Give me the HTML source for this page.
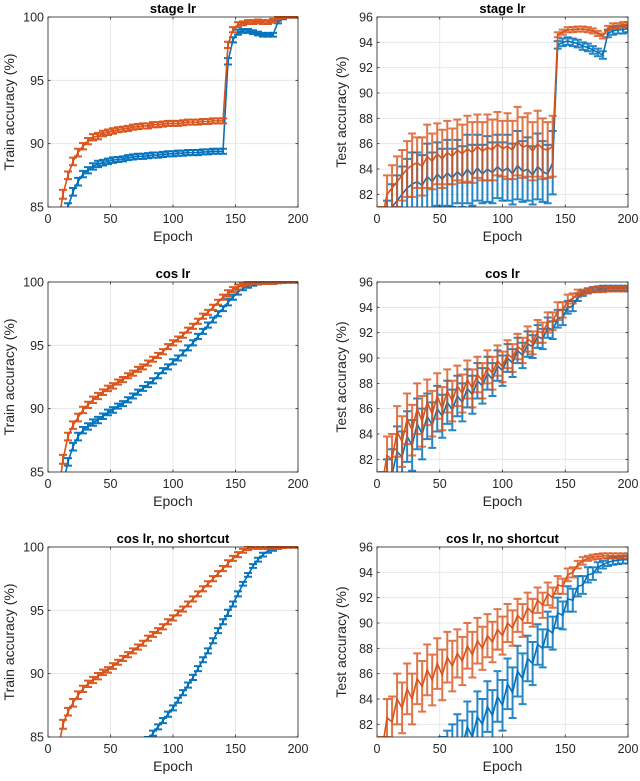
<!DOCTYPE html>
<html><head><meta charset="utf-8">
<style>
html,body{margin:0;padding:0;background:#fff;overflow:hidden;width:640px;height:781px;}
svg{display:block;font-family:"Liberation Sans",Arial,sans-serif;}
</style></head>
<body>
<svg id="fig" width="640" height="781" viewBox="0 0 640 781" xmlns="http://www.w3.org/2000/svg"></svg>
<script>
const epochs = [4,8,12,16,20,24,28,32,36,40,44,48,52,56,60,64,68,72,76,80,84,88,92,96,100,104,108,112,116,120,124,128,132,136,140,144,148,152,156,160,164,168,172,176,180,184,188,192,196,200];
const xTicks = [0,50,100,150,200];
const trainTicks = [85,90,95,100];
const testTicks = [82,84,86,88,90,92,94,96];

const stageTrainOrange = [80,83.5,86,87.5,88.6,89.3,89.8,90.2,90.5,90.6,90.8,90.9,91.0,91.1,91.15,91.2,91.3,91.35,91.4,91.4,91.5,91.5,91.55,91.6,91.6,91.6,91.65,91.7,91.7,91.7,91.75,91.75,91.8,91.8,91.8,97.8,99.0,99.4,99.5,99.6,99.6,99.65,99.6,99.6,99.7,99.9,100,100,100,100];
const stageTrainBlue = [78,81,83.5,85,86.2,87,87.6,87.9,88.2,88.4,88.5,88.6,88.7,88.75,88.8,88.9,88.95,89,89,89.05,89.1,89.1,89.15,89.2,89.2,89.25,89.25,89.3,89.3,89.3,89.35,89.35,89.4,89.4,89.4,96.5,98.2,98.8,98.9,98.9,98.8,98.7,98.6,98.6,98.6,99.6,99.9,100,100,100];
const trainErr = [0.35,0.35,0.35,0.3,0.3,0.3,0.25,0.25,0.25,0.25,0.22,0.22,0.22,0.2,0.2,0.2,0.2,0.2,0.2,0.2,0.2,0.2,0.2,0.2,0.2,0.2,0.2,0.2,0.2,0.2,0.2,0.2,0.2,0.2,0.2,0.25,0.2,0.2,0.15,0.15,0.15,0.15,0.15,0.15,0.15,0.1,0.08,0.05,0.05,0.05];

const stageTestOrange = [80,82,82.5,83,83.5,84,84.3,84.5,84.2,85,84.6,85.2,84.8,85.3,85,85.5,85.2,85.6,85.3,85.8,85.4,85.7,85.5,86,85.6,85.8,85.5,86.2,85.7,85.9,85.4,86,85.6,85.5,85.8,94.6,94.8,95,95,95.05,95.05,95,94.9,94.7,94.5,95.1,95.3,95.3,95.4,95.4];
const stageTestOrangeErr = [1,1.5,1.8,2,2,2.2,2.5,2,2.3,2.5,2.2,2.4,2.3,2.5,2.2,2.4,2.3,2.6,2.4,2.5,2.3,2.6,2.4,2.5,2.2,2.6,2.3,2.7,2.4,2.5,2.3,2.6,2.4,2.2,2.4,0.2,0.2,0.2,0.2,0.2,0.2,0.2,0.2,0.2,0.2,0.2,0.2,0.2,0.2,0.2];
const stageTestBlue = [79,80,81,81.5,82,82.5,82.8,83,82.7,83.4,83,83.6,83.2,83.7,83.3,83.8,83.4,84,83.5,84.1,83.6,84,83.7,84.2,83.8,84.1,83.6,84.3,83.8,84,83.5,84.2,83.8,83.6,84.5,93.8,94,94.1,94,93.9,93.7,93.6,93.4,93.2,93,94.7,94.9,95,95,95.1];
const stageTestBlueErr = [1,1.5,1.8,2,2.2,2.3,2.5,2.3,2.4,2.6,2.3,2.5,2.4,2.6,2.3,2.5,2.4,2.7,2.4,2.6,2.3,2.6,2.4,2.5,2.3,2.6,2.4,2.7,2.4,2.5,2.3,2.6,2.4,2.3,2.5,0.3,0.3,0.3,0.3,0.3,0.3,0.3,0.3,0.3,0.3,0.3,0.3,0.3,0.3,0.3];

const cosTrainOrange = [80,83,86,87.8,88.7,89.3,89.9,90.3,90.7,91,91.3,91.6,91.8,92.1,92.3,92.6,92.8,93.1,93.3,93.6,93.9,94.2,94.5,94.9,95.2,95.5,95.8,96.2,96.5,96.9,97.3,97.6,98,98.4,98.8,99.1,99.4,99.6,99.8,99.9,100,100,100,100,100,100,100,100,100,100];
const cosTrainBlue = [78,81,84,85.8,87,87.8,88.3,88.6,88.9,89.1,89.4,89.7,89.9,90.2,90.4,90.7,91,91.3,91.6,91.9,92.2,92.6,93,93.3,93.7,94,94.4,94.8,95.2,95.7,96.1,96.6,97,97.5,97.9,98.4,98.8,99.2,99.5,99.7,99.85,99.95,100,100,100,100,100,100,100,100];

const cosTestOrange = [80,82.3,82,84.2,83.4,85.2,84.3,86,85,86.5,85.6,87,86,87.4,86.6,87.8,87.2,88.3,87.6,88.7,88.2,89.3,88.8,89.8,89.3,90.3,90,90.9,90.6,91.5,91.2,92.1,92,92.8,92.9,93.7,93.8,94.5,94.7,95.1,95.2,95.3,95.4,95.4,95.4,95.45,95.45,95.45,95.45,95.45];
const cosTestBlue = [79,80.5,80.8,82.6,82.2,83.8,83.1,84.8,84,85.4,84.7,86,85.4,86.5,85.9,87,86.5,87.6,87.1,88.2,87.8,88.8,88.3,89.4,89,90,89.6,90.6,90.2,91.1,90.9,91.7,91.5,92.4,92.2,93.1,93.2,94,94.1,94.8,95.1,95.3,95.4,95.45,95.5,95.5,95.5,95.5,95.5,95.5];
const cosTestErr = [1,1.5,2,2,2,2,2,2,2,1.8,1.8,1.8,1.7,1.7,1.6,1.6,1.5,1.5,1.5,1.4,1.4,1.3,1.3,1.2,1.2,1.1,1.1,1,1,1,0.9,0.9,0.8,0.8,0.7,0.7,0.6,0.5,0.4,0.3,0.2,0.2,0.2,0.2,0.2,0.2,0.2,0.2,0.2,0.2];

const nsTrainOrange = [80,84,86,87,87.7,88.3,88.8,89.2,89.5,89.8,90.1,90.3,90.6,90.9,91.2,91.5,91.8,92.1,92.4,92.8,93.1,93.4,93.7,94.1,94.4,94.8,95.1,95.5,95.9,96.3,96.7,97.1,97.5,97.9,98.3,98.7,99.1,99.4,99.7,99.9,100,100,100,100,100,100,100,100,100,100];
const nsTrainBlue = [70,71,72,73,74,75,76,77,77.5,78,78.5,79,79.5,80,80.5,81,82,83,84,84.8,85.3,85.8,86.3,86.8,87.3,87.9,88.5,89.1,89.7,90.4,91.1,91.8,92.6,93.4,94.1,94.8,95.5,96.3,97.1,97.8,98.5,99,99.4,99.7,99.85,99.95,100,100,100,100];

const nsTestOrange = [80,82.5,82.2,84,83.3,84.8,84,85.6,85,86.3,85.5,86.8,85.9,87.3,86.6,87.6,87,88.2,87.5,88.6,88,89,88.5,89.5,89,90,89.6,90.6,90.2,91.2,90.8,91.8,91.4,92.3,92,93,92.9,93.8,94,94.6,94.9,95.1,95.2,95.25,95.3,95.3,95.3,95.3,95.3,95.3];
const nsTestOrangeErr = [1,1.5,2,2,2,2,2,2,2,2,2,2,2,2,2,1.9,1.9,1.8,1.8,1.8,1.7,1.7,1.6,1.6,1.5,1.5,1.4,1.3,1.3,1.2,1.1,1,1,0.9,0.8,0.7,0.6,0.5,0.4,0.3,0.3,0.2,0.2,0.2,0.2,0.2,0.2,0.2,0.2,0.2];
const nsTestBlue = [70,71,72,73,74,75,76,76.5,77,77.5,78,78.5,79,79.5,80,80.8,80.3,81.8,81,82.6,82,83.4,82.7,84.2,83.5,85.2,84.5,86.2,85.6,87.2,86.8,88.3,88,89.5,89.2,90.8,90.6,91.9,91.8,92.9,93,93.8,93.9,94.4,94.6,94.8,94.9,94.95,95,95];
const nsTestBlueErr = [2,2,2,2,2,2,2,2,2,2,2,2,2,2,2,2,2,2,2,2,2,2,2,2,2,2,2,2,2,1.8,1.7,1.6,1.5,1.4,1.3,1.2,1.1,1,0.9,0.8,0.7,0.6,0.5,0.4,0.3,0.3,0.3,0.3,0.3,0.3];

const NS='http://www.w3.org/2000/svg';
const svg=document.getElementById('fig');
function mk(tag,attrs,parent){const e=document.createElementNS(NS,tag);for(const k in attrs)e.setAttribute(k,attrs[k]);(parent||svg).appendChild(e);return e;}
const BLUE='#0072BD', ORANGE='#D95319';
let clipId=0;

function panel(opt){
  const {x0,x1,y0,y1,ymin,ymax,yticks,title,ylabel,series,name,bw}=opt;
  const g=mk('g',{});
  
  
  const sx=v=>x0+(v-0)/(200-0)*(x1-x0);
  const sy=v=>y1-(v-ymin)/(ymax-ymin)*(y1-y0);
  mk('rect',{x:x0,y:y0,width:x1-x0,height:y1-y0,fill:'#fff'},g);
  xTicks.forEach(t=>{const l=mk('line',{x1:sx(t),x2:sx(t),y1:y0,y2:y1,stroke:'#e3e3e3','stroke-width':0.8},g);
    });
  yticks.forEach(t=>{const l=mk('line',{x1:x0,x2:x1,y1:sy(t),y2:sy(t),stroke:'#e3e3e3','stroke-width':0.8},g);
    });
  const cid='c'+(clipId++);
  const cp=mk('clipPath',{id:cid},g);mk('rect',{x:x0,y:y0-1,width:x1-x0,height:y1-y0+1},cp);
  const plot=mk('g',{'clip-path':`url(#${cid})`},g);
  series.forEach(s=>{
    const sg=mk('g',{},plot);
    
    
    let d='';
    epochs.forEach((e,i)=>{
      const v=s.vals[i];const er=s.err[i]!==undefined?s.err[i]:s.err[s.err.length-1];
      const X=sx(e),ya=sy(v-er),yb=sy(v+er);
      const bar=mk('path',{d:`M${X},${ya}V${yb}M${X-4},${ya}H${X+4}M${X-4},${yb}H${X+4}`,stroke:s.color,'stroke-width':bw,fill:'none','stroke-opacity':s.op||0.95},sg);
      
      
      d+=(i?'L':'M')+X+','+sy(v);
    });
    const ln=mk('path',{d:d,stroke:s.color,'stroke-width':1.6,fill:'none'},sg);
    
    
  });
  mk('rect',{x:x0,y:y0,width:x1-x0,height:y1-y0,fill:'none',stroke:'#262626','stroke-width':0.8},g);
  xTicks.forEach(t=>{
    mk('line',{x1:sx(t),x2:sx(t),y1:y1,y2:y1-2.5,stroke:'#262626','stroke-width':0.8},g);
    mk('line',{x1:sx(t),x2:sx(t),y1:y0,y2:y0+2.5,stroke:'#262626','stroke-width':0.8},g);
    const tx=mk('text',{x:sx(t),y:y1+16,'text-anchor':'middle','font-size':12.5,fill:'#262626'},g);tx.textContent=t;
    
  });
  yticks.forEach(t=>{
    mk('line',{x1:x0,x2:x0+2.5,y1:sy(t),y2:sy(t),stroke:'#262626','stroke-width':0.8},g);
    mk('line',{x1:x1,x2:x1-2.5,y1:sy(t),y2:sy(t),stroke:'#262626','stroke-width':0.8},g);
    const tx=mk('text',{x:x0-4,y:sy(t)+4.5,'text-anchor':'end','font-size':12.5,fill:'#262626'},g);tx.textContent=t;
    
  });
  const tt=mk('text',{x:(x0+x1)/2,y:y0-4,'text-anchor':'middle','font-size':13,'font-weight':'bold',fill:'#000'},g);tt.textContent=title;
  
  const xl=mk('text',{x:(x0+x1)/2,y:y1+34,'text-anchor':'middle','font-size':14,fill:'#262626'},g);xl.textContent='Epoch';
  
  const yx=opt.ylx, yc=(y0+y1)/2;
  const yl=mk('text',{x:yx,y:yc,'text-anchor':'middle','font-size':14,fill:'#262626',transform:`rotate(-90 ${yx} ${yc})`},g);yl.textContent=ylabel;
  
}

const rows=[17,282,547];
const L={x0:48,x1:298,ymin:85,ymax:100,yticks:trainTicks,ylabel:'Train accuracy (%)',ylx:14,bw:2};
const R={x0:377,x1:628,ymin:81,ymax:96,yticks:testTicks,ylabel:'Test accuracy (%)',ylx:346,bw:2};
const titles=['stage lr','cos lr','cos lr, no shortcut'];
const trainData=[[stageTrainBlue,stageTrainOrange],[cosTrainBlue,cosTrainOrange],[nsTrainBlue,nsTrainOrange]];
const testData=[[stageTestBlue,stageTestBlueErr,stageTestOrange,stageTestOrangeErr],[cosTestBlue,cosTestErr,cosTestOrange,cosTestErr],[nsTestBlue,nsTestBlueErr,nsTestOrange,nsTestOrangeErr]];
rows.forEach((y0,r)=>{
  panel(Object.assign({},L,{y0:y0,y1:y0+190,title:titles[r],name:'train-panel-'+(r+1),
    series:[{name:'series-blue',color:BLUE,vals:trainData[r][0],err:trainErr},{name:'series-orange',color:ORANGE,vals:trainData[r][1],err:trainErr}]}));
  panel(Object.assign({},R,{y0:y0,y1:y0+190,title:titles[r],name:'test-panel-'+(r+1),
    series:[{name:'series-blue',color:BLUE,vals:testData[r][0],err:testData[r][1],op:0.85},{name:'series-orange',color:ORANGE,vals:testData[r][2],err:testData[r][3],op:0.8}]}));
});
</script>
</body></html>
